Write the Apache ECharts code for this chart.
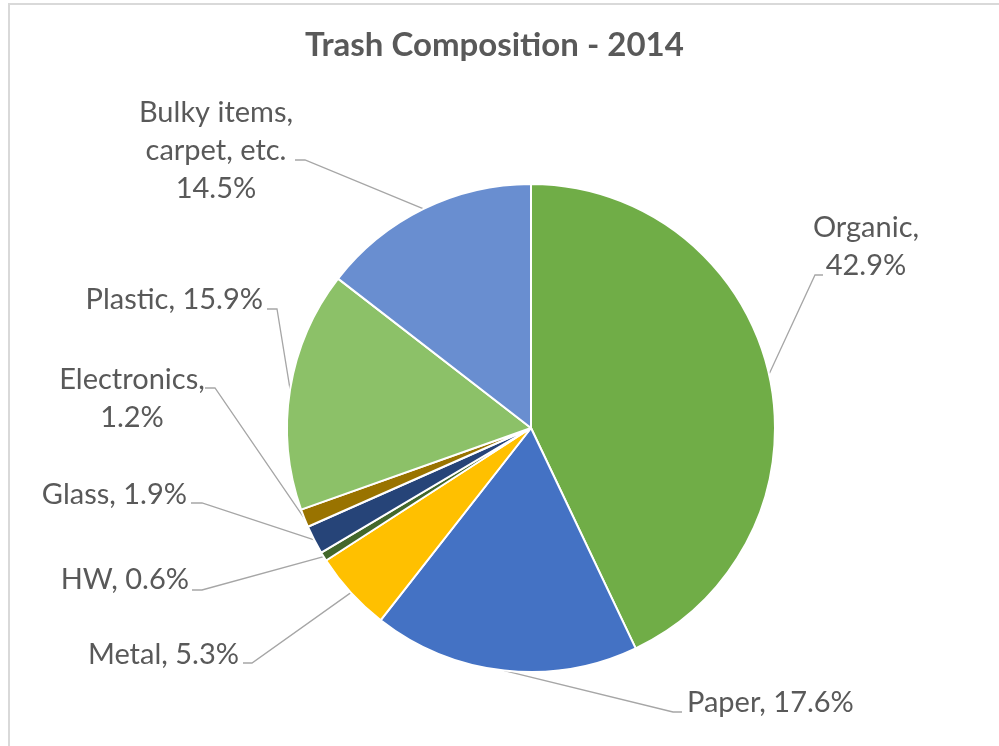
<!DOCTYPE html>
<html>
<head>
<meta charset="utf-8">
<script src="https://cdn.jsdelivr.net/npm/echarts@6/dist/echarts.min.js"></script>
<style>
html,body{margin:0;padding:0;background:#fff;}
#frame{position:absolute;left:8px;top:3px;width:1000px;height:760px;border-left:2px solid #d9d9d9;border-top:2px solid #d9d9d9;}
#chart{position:absolute;left:0;top:0;width:999px;height:746px;}
</style>
</head>
<body>
<div id="frame"></div>
<div id="chart"></div>
<script>
// Data
const categories = ['Organic', 'Paper', 'Metal', 'HW', 'Glass', 'Electronics', 'Plastic', 'Bulky items, carpet, etc.'];
const values = [42.9, 17.6, 5.3, 0.6, 1.9, 1.2, 15.9, 14.5];
const titleText = 'Trash Composition - 2014';

// Styles / layout (not data)
const colors = ['#70AD47', '#4472C4', '#FFC000', '#43682B', '#264478', '#997300', '#8CC168', '#698ED0'];
// label anchor positions: [x, y, align]
const labelPlaces = [
  [866, 247, 'center'],
  [687, 703, 'left'],
  [239, 655, 'right'],
  [189, 580, 'right'],
  [187, 495, 'right'],
  [132, 399, 'center'],
  [263, 300, 'right'],
  [216, 151, 'center']
];
// leader line elbow and end points: [elbowX, endX, y]
const leaderEnds = [
  [815, 823, 275],
  [673, 682, 712],
  [252, 243, 663],
  [202, 192, 590],
  [202, 191, 503],
  [215, 205, 388],
  [277, 267, 309],
  [305, 295, 160]
];

function labelText(name, value) {
  if (name === 'Bulky items, carpet, etc.') return 'Bulky items,\ncarpet, etc.\n' + value + '%';
  if (name === 'Organic' || name === 'Electronics') return name + ',\n' + value + '%';
  return name + ', ' + value + '%';
}

const chart = echarts.init(document.getElementById('chart'), null, {renderer: 'canvas'});
chart.setOption({
  animation: false,
  title: {
    text: titleText,
    left: 300,
    top: 24,
    textStyle: {fontFamily: 'Lato', fontSize: 33, fontWeight: 'bold', color: '#595959'}
  },
  series: [{
    type: 'pie',
    center: [531, 428],
    radius: 244,
    startAngle: 90,
    clockwise: true,
    avoidLabelOverlap: false,
    itemStyle: {borderColor: '#ffffff', borderWidth: 2},
    label: {
      show: true,
      position: 'outside',
      fontFamily: 'Lato',
      fontSize: 29,
      lineHeight: 38,
      color: '#595959',
      formatter: p => labelText(p.name, p.value)
    },
    labelLine: {show: true, length: 20, length2: 20, lineStyle: {color: '#A6A6A6', width: 1.3}},
    labelLayout: function (params) {
      const i = params.dataIndex;
      const pl = labelPlaces[i];
      const le = leaderEnds[i];
      const res = {x: pl[0], y: pl[1], align: pl[2], verticalAlign: 'middle'};
      if (params.labelLinePoints && params.labelLinePoints[0]) {
        const s = params.labelLinePoints[0];
        res.labelLinePoints = [[s[0], s[1]], [le[0], le[2]], [le[1], le[2]]];
      }
      return res;
    },
    emphasis: {disabled: true},
    data: categories.map((c, i) => ({name: c, value: values[i], itemStyle: {color: colors[i]}}))
  }]
});
</script>
</body>
</html>
